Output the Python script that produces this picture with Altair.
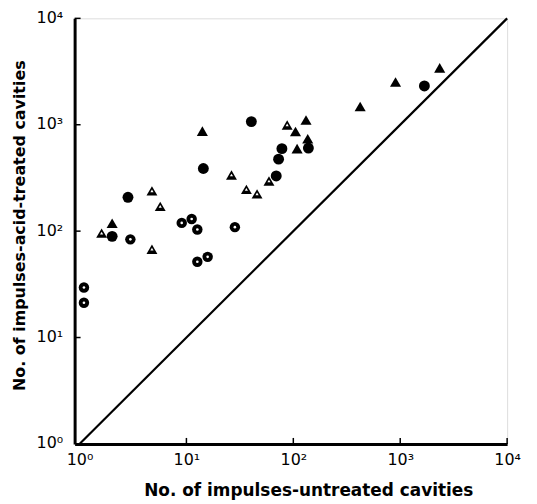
import altair as alt
import pandas as pd

# Data (x = untreated, y = acid-treated)
dot_circle_x = [1.10, 1.10, 2.99, 9.04, 11.2, 12.65, 28.4, 12.65, 15.8]
dot_circle_y = [29.5, 21.2, 83.7, 119.5, 130, 103.7, 109, 51.5, 57.3]

filled_circle_x = [2.02, 2.84, 14.4, 40.5, 78.2, 72.8, 69.2, 138.4, 1683]
filled_circle_y = [89.3, 208, 388, 1071, 596, 475, 330, 604, 2316]

filled_tri_x = [2.02, 14.1, 104.8, 131.5, 136.4, 108.5, 422, 904, 2340]
filled_tri_y = [118.7, 870, 864, 1109, 738, 596, 1486, 2523, 3427]

open_tri_x = [1.61, 4.76, 5.69, 4.76, 26.4, 36.4, 45.8, 59.2, 87.6]
open_tri_y = [95.8, 239, 171, 67.6, 337, 247, 224, 296, 996]

tick_values = [1, 10, 100, 1000, 10000]
tick_labels = ["10⁰", "10¹", "10²", "10³", "10⁴"]
diag = [1, 10000]

W, H = 435, 428
FONT = "DejaVu Sans"

label_expr = ("datum.value == 1 ? '10⁰' : datum.value == 10 ? '10¹' : "
              "datum.value == 100 ? '10²' : datum.value == 1000 ? '10³' : '10⁴'")

xscale = alt.Scale(type="log", domain=[0.9, 10000], nice=False)
yscale = alt.Scale(type="log", domain=[1, 10000], nice=False)

xaxis = alt.Axis(values=tick_values, labelExpr=label_expr, ticks=False, grid=False,
                 domainWidth=3, domainColor="black", labelFontSize=16, labelFont=FONT,
                 labelColor="black", labelPadding=8, labelFlush=False,
                 title="No. of impulses-untreated cavities", titleFont=FONT,
                 titleFontSize=17, titleFontWeight="bold", titleColor="black",
                 titleX=235, titleY=47, titleBaseline="middle", titleAlign="center")
yaxis = alt.Axis(values=tick_values, labelExpr=label_expr, ticks=False, grid=False,
                 domainWidth=3, domainColor="black", labelFontSize=16, labelFont=FONT,
                 labelColor="black", labelPadding=12, labelOffset=-1, labelFlush=False,
                 title="No. of impulses-acid-treated cavities", titleFont=FONT,
                 titleFontSize=16, titleFontWeight="bold", titleColor="black",
                 titleX=-55, titleY=208, titleBaseline="middle", titleAlign="center",
                 titleAngle=270)


def pts(xs, ys):
    return pd.DataFrame({"x": xs, "y": ys})


def sym(df, shape, size, color):
    return alt.Chart(df).mark_point(shape=shape, size=size, filled=True, color=color,
                                    opacity=1, strokeWidth=0).encode(
        x=alt.X("x:Q", scale=xscale, axis=xaxis),
        y=alt.Y("y:Q", scale=yscale, axis=yaxis),
    )


diag_df = pd.DataFrame({"x": diag, "y": diag})
line = alt.Chart(diag_df).mark_line(color="black", strokeWidth=2.2).encode(
    x=alt.X("x:Q", scale=xscale, axis=xaxis),
    y=alt.Y("y:Q", scale=yscale, axis=yaxis),
)

tick_df = pd.DataFrame({"v": tick_values[1:]})
xticks = alt.Chart(tick_df).mark_rule(color="black", strokeWidth=1.5).encode(
    x=alt.X("v:Q", scale=xscale, axis=xaxis), y=alt.value(H), y2=alt.value(H - 6))
yticks = alt.Chart(tick_df).mark_rule(color="black", strokeWidth=1.5).encode(
    y=alt.Y("v:Q", scale=yscale, axis=yaxis), x=alt.value(0), x2=alt.value(6))

dc = pts(dot_circle_x, dot_circle_y)
fc = pts(filled_circle_x, filled_circle_y)
ft = pts(filled_tri_x, filled_tri_y)
ot = pts(open_tri_x, open_tri_y)

layers = [
    line, xticks, yticks,
    sym(fc, "circle", 120, "black"),
    sym(dc, "circle", 110, "black"),
    sym(dc, "circle", 7, "white"),
    sym(ft, "triangle-up", 125, "black"),
    sym(ot, "triangle-up", 120, "black"),
    sym(ot, "triangle-up", 10, "white"),
]

chart = alt.layer(*layers).properties(
    width=W, height=H,
    autosize=alt.AutoSizeParams(type="none"),
    padding={"left": 67, "top": 9, "right": 22, "bottom": 56},
).configure_view(stroke=None).configure(background="white")

chart.save("out.html", embed_options={"renderer": "svg", "actions": False})
